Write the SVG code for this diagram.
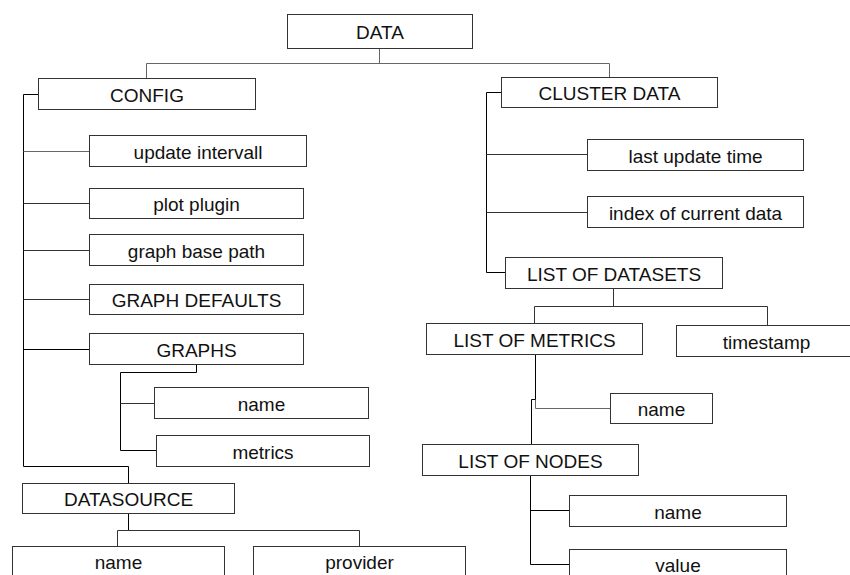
<svg xmlns="http://www.w3.org/2000/svg" width="850" height="575" viewBox="0 0 850 575">
<style>
rect{fill:#fff;stroke:#333;stroke-width:1}
text{font-family:"Liberation Sans",Arial,sans-serif;font-size:19px;fill:#111;text-anchor:middle}
.c path{fill:none;stroke:#333;stroke-width:1}
.c .k{stroke:#000}
.c .g{stroke:#666}
</style>
<rect x="0" y="0" width="850" height="575" style="fill:#fff;stroke:none"/>
<g class="c" id="connectors">
<path class="g" d="M379.5,48 V63.5 M146.5,78 V63.5 H609.5 V77"/>
<path class="k" d="M38,94.5 H23.5 V466.5 H128.5 V483"/>
<path class="g" d="M23.5,151.5 H89"/>
<path d="M23.5,203.5 H89 M23.5,250.5 H89 M23.5,299.5 H89"/>
<path class="k" d="M23.5,349.5 H89"/>
<path class="k" d="M196.5,364 V372.5 H120.5 V450.5 H156"/>
<path d="M120.5,403.5 H154"/>
<path class="k" d="M128.5,513 V530.5"/>
<path d="M117.5,546 V530.5 H359.5 V546"/>
<path class="k" d="M501,92.5 H486.5 V272.5 H505"/>
<path d="M486.5,154.5 H587 M486.5,212.5 H587"/>
<path d="M613.5,288 V306.5 M534.5,323 V306.5 H767.5 V325"/>
<path class="k" d="M535.5,354 V399.5"/>
<path class="g" d="M535.5,399.5 V408.5 H610"/>
<path class="k" d="M535.5,399.5 H531.5 V444"/>
<path class="k" d="M530.5,475 V564.5 H569 M530.5,510.5 H569"/>
</g>
<g id="n-data"><rect x="287.5" y="14.5" width="185" height="34"/><text x="380" y="38.5">DATA</text></g>
<g id="n-config"><rect x="38.5" y="78.5" width="217" height="31"/><text x="147" y="102">CONFIG</text></g>
<g id="n-update"><rect x="89.5" y="135.5" width="217" height="31"/><text x="198" y="158.5">update intervall</text></g>
<g id="n-plot"><rect x="89.5" y="188.5" width="214" height="30"/><text x="196.5" y="211">plot plugin</text></g>
<g id="n-basepath"><rect x="89.5" y="234.5" width="214" height="31"/><text x="196.5" y="257.5">graph base path</text></g>
<g id="n-defaults"><rect x="89.5" y="284.5" width="214" height="30"/><text x="196.5" y="307">GRAPH DEFAULTS</text></g>
<g id="n-graphs"><rect x="89.5" y="333.5" width="214" height="31"/><text x="196.5" y="356.5">GRAPHS</text></g>
<g id="n-g-name"><rect x="154.5" y="387.5" width="214" height="31"/><text x="261.5" y="410.5">name</text></g>
<g id="n-g-metrics"><rect x="156.5" y="435.5" width="213" height="31"/><text x="263" y="458.5">metrics</text></g>
<g id="n-datasource"><rect x="22.5" y="483.5" width="212" height="30"/><text x="128.5" y="506">DATASOURCE</text></g>
<g id="n-ds-name"><rect x="12.5" y="546.5" width="212" height="40"/><text x="118.5" y="568.5">name</text></g>
<g id="n-ds-provider"><rect x="253.5" y="546.5" width="212" height="40"/><text x="359.5" y="568.5">provider</text></g>
<g id="n-cluster"><rect x="501.5" y="77.5" width="216" height="30"/><text x="609.5" y="100">CLUSTER DATA</text></g>
<g id="n-lastupdate"><rect x="587.5" y="139.5" width="216" height="31"/><text x="695.5" y="162.5">last update time</text></g>
<g id="n-index"><rect x="587.5" y="196.5" width="216" height="31"/><text x="695.5" y="219.5">index of current data</text></g>
<g id="n-datasets"><rect x="505.5" y="257.5" width="217" height="31"/><text x="614" y="280.5">LIST OF DATASETS</text></g>
<g id="n-metrics"><rect x="426.5" y="323.5" width="216" height="31"/><text x="534.5" y="346.5">LIST OF METRICS</text></g>
<g id="n-timestamp"><rect x="676.5" y="325.5" width="181" height="31"/><text x="766.5" y="348.5">timestamp</text></g>
<g id="n-m-name"><rect x="610.5" y="393.5" width="102" height="30"/><text x="661.5" y="416">name</text></g>
<g id="n-nodes"><rect x="422.5" y="444.5" width="216" height="31"/><text x="530.5" y="467.5">LIST OF NODES</text></g>
<g id="n-n-name"><rect x="569.5" y="495.5" width="217" height="31"/><text x="678" y="518.5">name</text></g>
<g id="n-n-value"><rect x="569.5" y="549.5" width="217" height="40"/><text x="678" y="572">value</text></g>
</svg>
